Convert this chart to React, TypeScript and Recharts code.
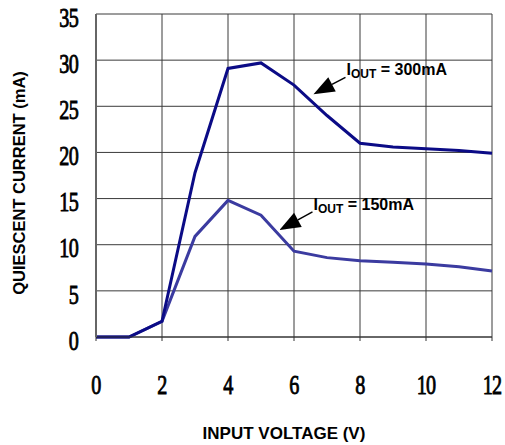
import React from "react"
import {
  LineChart,
  Line,
  XAxis,
  YAxis,
  CartesianGrid,
  ReferenceDot,
} from "recharts"

// input voltage (V)
const voltage = [0, 1, 2, 3, 4, 5, 6, 7, 8, 9, 10, 11, 12]
// quiescent current (mA)
const iq300 = [0, 0, 1.7, 17.8, 29.1, 29.7, 27.3, 24.0, 21.0, 20.6, 20.4, 20.2, 19.9]
const iq150 = [0, 0, 1.7, 10.9, 14.8, 13.2, 9.3, 8.6, 8.25, 8.1, 7.9, 7.6, 7.15]

const xTicks = [0, 2, 4, 6, 8, 10, 12]
const yTicks = [0, 5, 10, 15, 20, 25, 30, 35]

const data = voltage.map((v, i) => ({ v, i300: iq300[i], i150: iq150[i] }))

const C300 = "#0b0b86"
const C150 = "#3b3ba0"
const SANS = "Arial, 'Liberation Sans', sans-serif"

const serifTick = (anchor: "middle" | "end", dy: number) => (props: any) => {
  const { x, y, payload } = props
  return (
    <g transform={`translate(${x},${y + dy}) scale(0.72,1)`}>
      <text
        x={0}
        y={0}
        textAnchor={anchor}
        dominantBaseline="central"
        fontFamily="'Liberation Serif', serif"
        fontSize={28}
        letterSpacing={-1}
        fill="#000"
        stroke="#000"
        strokeWidth={0.9}
      >
        {payload.value}
      </text>
    </g>
  )
}

// arrow + label, tip sits on the ReferenceDot
const Callout = (text: string, sub: string, rest: string, dx: number, dy: number) => (props: any) => {
  const { cx, cy } = props
  const tx = cx + dx
  const ty = cy + dy
  const ang = Math.atan2(ty - cy, tx - cx)
  const len = 21
  const hw = 8
  const bx = cx + Math.cos(ang) * len
  const by = cy + Math.sin(ang) * len
  const px = -Math.sin(ang) * hw
  const py = Math.cos(ang) * hw
  return (
    <g>
      <line x1={bx} y1={by} x2={tx} y2={ty} stroke="#000" strokeWidth={1.5} />
      <polygon points={`${cx},${cy} ${bx + px},${by + py} ${bx - px},${by - py}`} fill="#000" />
      <text x={tx + 1} y={ty - 2} fontFamily={SANS} fontWeight="bold" fontSize={16} fill="#000">
        {text}
        <tspan fontSize={12} dy={3}>{sub}</tspan>
        <tspan dy={-3}>{rest}</tspan>
      </text>
    </g>
  )
}

export default function App() {
  return (
    <div style={{ position: "absolute", left: 0, top: 0, background: "#fff" }}>
      <LineChart
        width={505}
        height={445}
        data={data}
        margin={{ top: 14, right: 13, left: 0, bottom: 0 }}
      >
        <CartesianGrid stroke="#3a3a3a" strokeWidth={1} />
        <XAxis
          dataKey="v"
          type="number"
          domain={[0, 12]}
          ticks={xTicks}
          height={108}
          axisLine={{ stroke: "#333" }}
          tickLine={{ stroke: "#333" }}
          tickSize={4}
          tick={serifTick("middle", 41)}
          label={(p: any) => {
            const vb = p.viewBox
            return (
              <text
                x={vb.x + vb.width / 2 - 10}
                y={439}
                textAnchor="middle"
                fontFamily={SANS}
                fontWeight="bold"
                fontSize={17}
                fill="#000"
              >
                INPUT VOLTAGE (V)
              </text>
            )
          }}
        />
        <YAxis
          type="number"
          domain={[0, 35]}
          ticks={yTicks}
          width={96}
          axisLine={{ stroke: "#666", strokeWidth: 2 }}
          tickLine={false}
          tick={serifTick("end", 3)}
          tickMargin={12}
          label={() => (
            <text
              transform="translate(25,183) rotate(-90)"
              textAnchor="middle"
              fontFamily={SANS}
              fontWeight="bold"
              fontSize={16.5}
              fill="#000"
            >
              QUIESCENT CURRENT (mA)
            </text>
          )}
        />
        <Line dataKey="i150" stroke={C150} strokeWidth={3} dot={false} isAnimationActive={false} />
        <Line dataKey="i300" stroke={C300} strokeWidth={3} dot={false} isAnimationActive={false} />
        <ReferenceDot
          x={6.59}
          y={26.3}
          r={0}
          ifOverflow="visible"
          shape={Callout("I", "OUT", " = 300mA", 32, -17)}
        />
        <ReferenceDot
          x={5.56}
          y={11.6}
          r={0}
          ifOverflow="visible"
          shape={Callout("I", "OUT", " = 150mA", 33, -18)}
        />
      </LineChart>
    </div>
  )
}
